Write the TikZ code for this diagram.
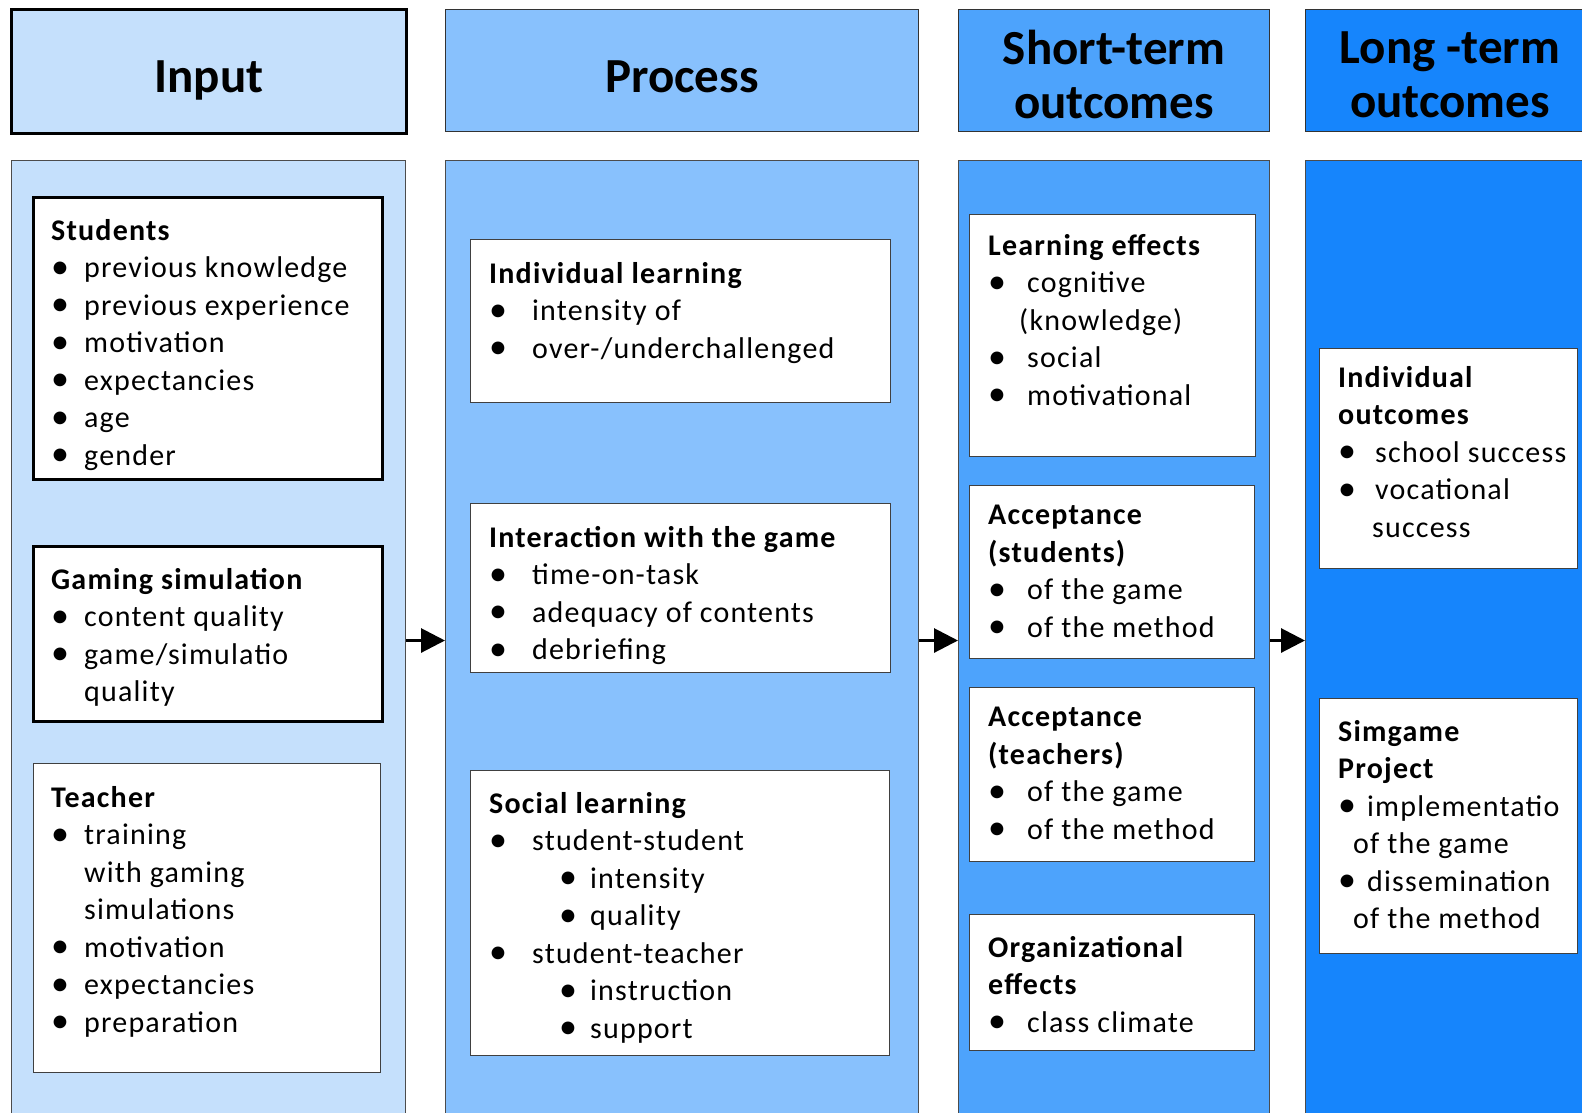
\documentclass[tikz,border=0pt]{standalone}
\usepackage{fontspec}
\setmainfont{Carlito}
\usetikzlibrary{arrows.meta}

\definecolor{inblue}{RGB}{197,224,252}
\definecolor{prblue}{RGB}{136,193,253}
\definecolor{shblue}{RGB}{77,163,252}
\definecolor{loblue}{RGB}{22,133,252}

\newcommand{\bul}[1][33pt]{\makebox[#1][l]{\raisebox{-0.5pt}{\scalebox{1.2}{\textbullet}}}}
\newcommand{\subbul}{\hspace*{70pt}\bul[31pt]}

\begin{document}
\begin{tikzpicture}[x=1pt, y=-1pt,
  col/.style={draw=black!70, line width=1pt, anchor=north west, inner sep=0, minimum height=960},
  head/.style={draw=black!80, line width=1pt, anchor=north west, inner sep=0, minimum height=122},
  headtxt/.style={inner sep=0, align=center, font=\fontsize{49}{54}\selectfont\bfseries},
  box/.style={draw=black!75, fill=white, line width=1pt, anchor=north west, inner sep=0},
  thickbox/.style={box, draw=black, line width=3pt},
  txt/.style={anchor=north west, inner sep=0, align=left,
    font=\fontsize{30}{37.5}\selectfont\addfontfeatures{LetterSpace=4}},
  flow/.style={line width=3pt, -{Triangle[length=24pt, width=24pt]}}]
\useasboundingbox (0,0) rectangle (1582,1112);
\clip (0,0) rectangle (1582,1112);

% columns
\node[col, fill=inblue, minimum width=394] (inCol) at (11,160) {};
\node[col, fill=prblue, minimum width=473] (prCol) at (445,160) {};
\node[col, fill=shblue, minimum width=311] (shCol) at (958,160) {};
\node[col, fill=loblue, minimum width=289] (loCol) at (1305,160) {};

% headers
\node[head, fill=inblue, draw=black, line width=3pt, minimum width=395, minimum height=124] (inHead) at (10,8) {};
\node[head, fill=prblue, minimum width=473] (prHead) at (445,9) {};
\node[head, fill=shblue, minimum width=311] (shHead) at (958,9) {};
\node[head, fill=loblue, minimum width=289] (loHead) at (1305,9) {};
\node[headtxt] (inTitle) at ([shift={(0,9)}]inHead.center) {Input};
\node[headtxt] (prTitle) at ([shift={(0,6)}]prHead.center) {Process};
\node[headtxt] (shTitle) at ([shift={(0,4)}]shHead.center) {Short-term\\outcomes};
\node[headtxt] (loTitle) at ([shift={(0,4)}]loHead.center) {Long -term\\outcomes};

% input
\node[thickbox, minimum width=349, minimum height=282] (students) at (32,196) {};
\node[txt] (studentsTxt) at ([shift={(19,23)}]students.north west) {\textbf{Students}\\
  \bul previous knowledge\\ \bul previous experience\\ \bul motivation\\
  \bul expectancies\\ \bul age\\ \bul gender};
\node[thickbox, minimum width=349, minimum height=175] (gaming) at (32,545) {};
\node[txt] (gamingTxt) at ([shift={(19,23)}]gaming.north west) {\textbf{Gaming simulation}\\
  \bul content quality\\ \bul game/simulatio\\ \hspace*{33pt}quality};
\node[box, minimum width=347, minimum height=309] (teacher) at (33,763) {};
\node[txt] (teacherTxt) at ([shift={(18,23)}]teacher.north west) {\textbf{Teacher}\\
  \bul training\\ \hspace*{33pt}with gaming\\ \hspace*{33pt}simulations\\
  \bul motivation\\ \bul expectancies\\ \bul preparation};

% process
\node[box, minimum width=420, minimum height=163] (indiv) at (470,239) {};
\node[txt] (indivTxt) at ([shift={(19,23)}]indiv.north west) {\textbf{Individual learning}\\
  \bul[35pt] intensity of\\ \bul[35pt] over-/underchallenged};
\node[box, minimum width=420, minimum height=169] (interact) at (470,503) {};
\node[txt] (interactTxt) at ([shift={(19,23)}]interact.north west) {\textbf{Interaction with the game}\\
  \bul[35pt] time-on-task\\ \bul[35pt] adequacy of contents\\ \bul[35pt] debriefing};
\node[box, minimum width=419, minimum height=285] (social) at (470,770) {};
\node[txt] (socialTxt) at ([shift={(19,22)}]social.north west) {\textbf{Social learning}\\
  \bul[35pt] student-student\\ \subbul intensity\\ \subbul quality\\
  \bul[35pt] student-teacher\\ \subbul instruction\\ \subbul support};

% short-term outcomes
\node[box, minimum width=286, minimum height=242] (learn) at (969,214) {};
\node[txt] (learnTxt) at ([shift={(19,20)}]learn.north west) {\textbf{Learning effects}\\
  \bul[31pt] cognitive\\ \hspace*{31pt}(knowledge)\\ \bul[31pt] social\\ \bul[31pt] motivational};
\node[box, minimum width=285, minimum height=173] (accStud) at (969,485) {};
\node[txt] (accStudTxt) at ([shift={(19,20)}]accStud.north west) {\textbf{Acceptance}\\ \textbf{(students)}\\
  \bul[31pt] of the game\\ \bul[31pt] of the method};
\node[box, minimum width=285, minimum height=174] (accTeach) at (969,687) {};
\node[txt] (accTeachTxt) at ([shift={(19,20)}]accTeach.north west) {\textbf{Acceptance}\\ \textbf{(teachers)}\\
  \bul[31pt] of the game\\ \bul[31pt] of the method};
\node[box, minimum width=285, minimum height=136] (orga) at (969,914) {};
\node[txt] (orgaTxt) at ([shift={(19,22)}]orga.north west) {\textbf{Organizational}\\ \textbf{effects}\\
  \bul[31pt] class climate};

% long-term outcomes
\node[box, minimum width=258, minimum height=220] (indOut) at (1319,348) {};
\node[txt] (indOutTxt) at ([shift={(19,18)}]indOut.north west) {\textbf{Individual}\\ \textbf{outcomes}\\
  \bul[29pt] school success\\ \bul[29pt] vocational\\ \hspace*{34pt}success};
\node[box, minimum width=258, minimum height=255] (simgame) at (1319,698) {};
\node[txt] (simgameTxt) at ([shift={(19,22)}]simgame.north west) {\textbf{Simgame}\\ \textbf{Project}\\
  \bul[21pt] implementatio\\ \hspace*{15pt}of the game\\ \bul[21pt] dissemination\\ \hspace*{15pt}of the method};

% arrows
\draw[flow] (inCol.east) -- (prCol.west);
\draw[flow] (prCol.east) -- (shCol.west);
\draw[flow] (shCol.east) -- (loCol.west);
\end{tikzpicture}
\end{document}
